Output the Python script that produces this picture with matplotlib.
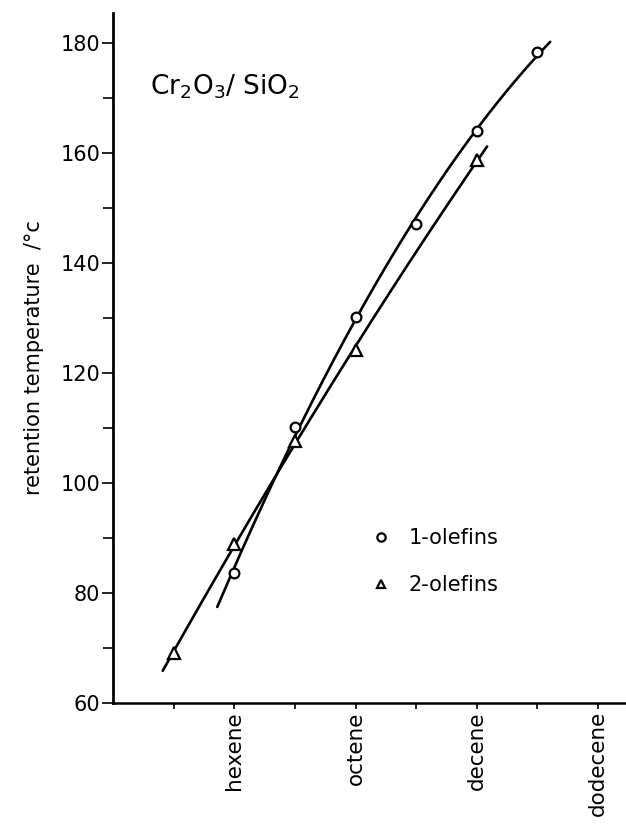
import matplotlib.pyplot as plt
import numpy as np
from matplotlib.lines import Line2D
from matplotlib.ticker import MultipleLocator, FixedLocator

plt.rcParams['font.family'] = ['DejaVu Sans']

# carbon number of the olefin
carbon_1 = [6, 7, 8, 9, 10, 11]
temp_1 = [83.6, 110.2, 130.2, 147.1, 164.0, 178.4]
carbon_2 = [5, 6, 7, 8, 10]
temp_2 = [69.1, 88.9, 107.6, 124.2, 158.7]

# extent of the hand-drawn fitted curves
curve_1_range = (5.72, 11.21)
curve_2_range = (4.82, 10.17)

label_ticks = [6, 8, 10, 12]
label_names = ["hexene", "octene", "decene", "dodecene"]
minor_ticks = [5, 7, 9, 11]

fig = plt.figure(figsize=(6.26, 8.25), dpi=100)
ax = fig.add_axes([0.1805, 0.148, 0.8195, 0.836])

for cx, ty, rng in ((carbon_1, temp_1, curve_1_range),
                    (carbon_2, temp_2, curve_2_range)):
    coef = np.polyfit(cx, ty, 2)
    xs = np.linspace(rng[0], rng[1], 200)
    ax.plot(xs, np.polyval(coef, xs), color="black", lw=1.9,
            solid_capstyle="round", zorder=2)

ax.plot(carbon_1, temp_1, ls="none", marker="o", ms=7, mfc="white",
        mec="black", mew=1.6, zorder=3)
ax.plot(carbon_2, temp_2, ls="none", marker="^", ms=8, mfc="white",
        mec="black", mew=1.6, zorder=3)

ax.set_xlim(4.0, 12.46)
ax.set_ylim(60, 185.5)

for s in ("top", "right"):
    ax.spines[s].set_visible(False)
ax.spines["left"].set_linewidth(2.0)
ax.spines["bottom"].set_linewidth(1.8)

ax.yaxis.set_major_locator(MultipleLocator(20))
ax.yaxis.set_minor_locator(MultipleLocator(10))
ax.tick_params(axis="y", which="major", direction="out", length=8,
               width=1.2, labelsize=15, pad=1)
ax.tick_params(axis="y", which="minor", direction="out", length=7, width=1.2)

ax.xaxis.set_major_locator(FixedLocator(label_ticks))
ax.xaxis.set_minor_locator(FixedLocator(minor_ticks))
ax.set_xticklabels(label_names, rotation=90, fontsize=15.5)
ax.tick_params(axis="x", which="both", direction="out", length=4,
               width=1.2, pad=2)

ax.set_ylabel("retention temperature  /°c", fontsize=15, labelpad=12)

ax.text(0.072, 0.893, r"Cr$_2$O$_3$/ SiO$_2$", transform=ax.transAxes,
        fontsize=19, va="center", ha="left")

handles = [Line2D([], [], ls="none", marker="o", ms=6, mfc="white",
                  mec="black", mew=1.6),
           Line2D([], [], ls="none", marker="^", ms=6, mfc="white",
                  mec="black", mew=1.6)]
ax.legend(handles, ["1-olefins", "2-olefins"], loc="center left",
          bbox_to_anchor=(0.47, 0.205), frameon=False, fontsize=15,
          handlelength=0.8, handletextpad=0.9, labelspacing=1.3)

fig.savefig("out.png", dpi=100)
